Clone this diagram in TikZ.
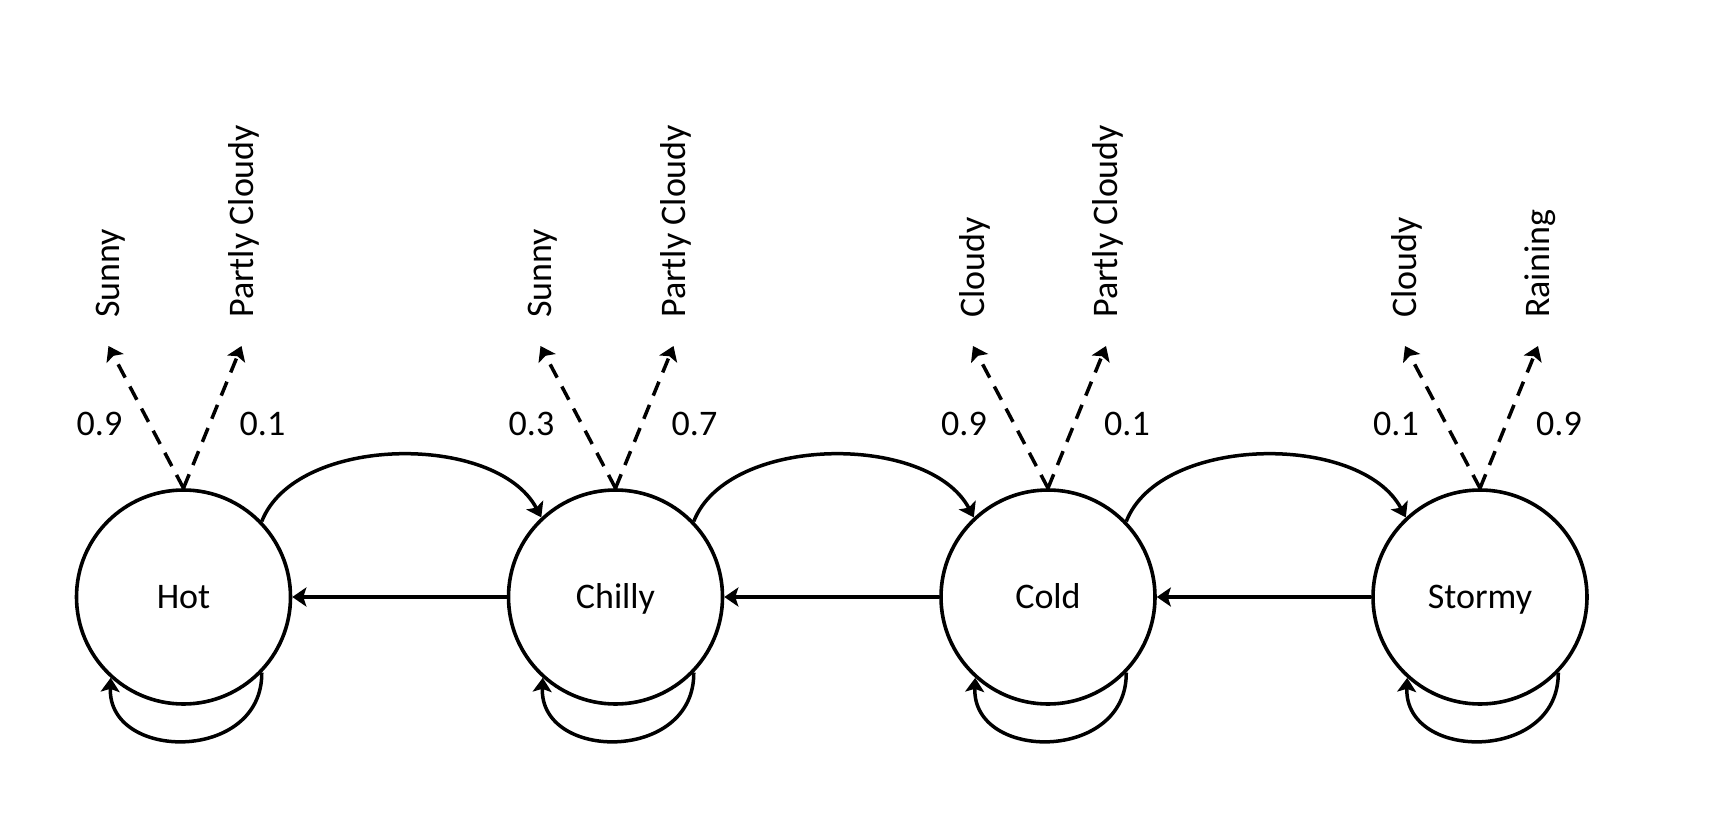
\documentclass[tikz,border=0pt]{standalone}
\usepackage{fontspec}
\setmainfont{Carlito}
\usetikzlibrary{arrows.meta}
\begin{document}
\begin{tikzpicture}[x=1pt,y=-1pt,
  txt/.style={font=\fontsize{36}{43}\selectfont},
  state/.style={circle, draw, line width=3.6pt, minimum size=214pt, inner sep=0pt, txt, text height=23pt, text depth=0pt},
  trans/.style={line width=3.5pt, -{Stealth[length=14pt,width=19pt,inset=3pt]}},
  emit/.style={trans, dash pattern=on 15pt off 10pt},
  lbl/.style={txt, inner sep=0pt},
  obs/.style={lbl, rotate=90, anchor=west}
]
\fill[white] (0,0) rectangle (1716,818);
\useasboundingbox (0,0) rectangle (1716,818);
\foreach \n/\x/\t/\la/\lb/\pa/\pb in {
  hot/183.5/Hot/Sunny/Partly Cloudy/0.9/0.1,
  chilly/615.5/Chilly/Sunny/Partly Cloudy/0.3/0.7,
  cold/1048/Cold/Cloudy/Partly Cloudy/0.9/0.1,
  stormy/1480/Stormy/Cloudy/Raining/0.1/0.9}{
  \node[state] (\n) at (\x,597) {\t};
  \coordinate (\n-a) at (\x-75,346);
  \coordinate (\n-b) at (\x+58,346);
  \draw[emit] (\n.north) -- (\n-a);
  \draw[emit] (\n.north) -- (\n-b);
  \node[obs] (\n-la) at (\x-73,318) {\la};
  \node[obs] (\n-lb) at (\x+60,318) {\lb};
  \node[lbl] (\n-pa) at (\x-84,423.5) {\pa};
  \node[lbl] (\n-pb) at (\x+79,423.5) {\pb};
  \draw[trans] (\n.-44) .. controls +(1,90) and +(-3,84) .. (\n.-132);
}
\draw[trans] (hot.44) .. controls +(34,-87) and +(-45,-85) .. (chilly.133);
\draw[trans] (chilly.44) .. controls +(34,-87) and +(-45,-85) .. (cold.133);
\draw[trans] (cold.44) .. controls +(34,-87) and +(-45,-85) .. (stormy.133);
\draw[trans] (chilly.west) -- (hot.east);
\draw[trans] (cold.west) -- (chilly.east);
\draw[trans] (stormy.west) -- (cold.east);
\end{tikzpicture}
\end{document}
